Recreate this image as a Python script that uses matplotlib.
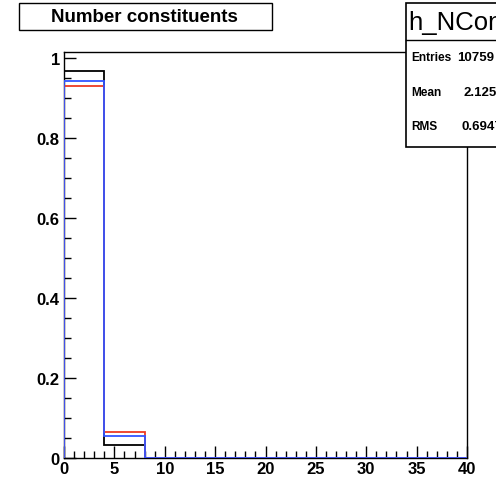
import matplotlib
matplotlib.use("Agg")
import matplotlib.pyplot as plt
from matplotlib.patches import Rectangle
from matplotlib.lines import Line2D
from matplotlib.ticker import MultipleLocator, FixedLocator
import numpy as np

# ---- data ----
bin_edges = [0, 4, 8, 12, 16, 20, 24, 28, 32, 36, 40]
black_vals = [0.967, 0.0325, 0, 0, 0, 0, 0, 0, 0, 0]
red_vals = [0.931, 0.064, 0, 0, 0, 0, 0, 0, 0, 0]
blue_vals = [0.943, 0.056, 0, 0, 0, 0, 0, 0, 0, 0]
series_colors = ["black", "#ee3a22", "#3355ff"]
title_text = "Number constituents"
stats_name = "h_NCon"
stats_labels = ["Entries", "Mean", "RMS"]
stats_values = ["10759", "2.125", "0.6947"]
y_major = [0, 0.2, 0.4, 0.6, 0.8, 1]
y_major_labels = ["0", "0.2", "0.4", "0.6", "0.8", "1"]
x_major = [0, 5, 10, 15, 20, 25, 30, 35, 40]

W, H = 496, 481
FONT = "Liberation Sans"

fig = plt.figure(figsize=(W / 100, H / 100), dpi=100)
fig.patch.set_facecolor("white")

def fx(px):
    return px / W

def fy(py):
    return 1 - py / H

ax = fig.add_axes([fx(64), fy(459), fx(467) - fx(64), fy(53) - fy(459)])
ax.set_xlim(0, 40)
ax.set_ylim(0, 1.015)

for vals, col in zip([black_vals, red_vals, blue_vals], series_colors):
    ax.stairs(vals, bin_edges, color=col, lw=1.3, baseline=None, zorder=3)
    ax.plot([bin_edges[0], bin_edges[0]], [0, vals[0]], color=col, lw=1.3, zorder=3)

for s in ax.spines.values():
    s.set_linewidth(1.0)
    s.set_color("black")

ax.yaxis.set_major_locator(FixedLocator(y_major))
ax.set_yticklabels(y_major_labels)
ax.yaxis.set_minor_locator(MultipleLocator(0.05))
ax.xaxis.set_major_locator(FixedLocator(x_major))
ax.set_xticklabels([str(v) for v in x_major])
ax.xaxis.set_minor_locator(MultipleLocator(1))

ax.tick_params(which="both", direction="in", top=False, right=False, width=1.0)
ax.tick_params(which="major", length=8.8)
ax.tick_params(which="minor", length=5.0)
ax.tick_params(axis="y", which="major", pad=3)
ax.tick_params(axis="x", which="major", pad=2.5)
for lab in ax.get_xticklabels() + ax.get_yticklabels():
    lab.set_fontfamily(FONT)
    lab.set_fontweight("bold")
    lab.set_fontsize(12)

# ---- title box ----
fig.add_artist(Rectangle((fx(20), fy(32)), fx(273) - fx(20), fy(5) - fy(32),
                         transform=fig.transFigure, facecolor="#333333", edgecolor="none", zorder=9))
fig.add_artist(Rectangle((fx(19), fy(31)), fx(272) - fx(19), fy(4) - fy(31),
                         transform=fig.transFigure, facecolor="white", edgecolor="black", lw=1.0, zorder=10))
fig.text(fx(144), fy(17.5), title_text, ha="center", va="center", fontsize=13.5,
         fontweight="bold", fontfamily=FONT, zorder=11)

# ---- stats box ----
fig.add_artist(Rectangle((fx(406), fy(148)), fx(520) - fx(406), fy(4) - fy(148),
                         transform=fig.transFigure, facecolor="white", edgecolor="black", lw=1.2, zorder=10))
fig.add_artist(Line2D([fx(406), fx(500)], [fy(41), fy(41)], transform=fig.transFigure,
                      color="black", lw=1.0, zorder=11))
fig.text(fx(408), fy(23), stats_name, ha="left", va="center", fontsize=18.5,
         fontfamily=FONT, zorder=12)
row_y = [58, 93, 127]
val_x = [457, 464, 462]
for lab, val, yy, vx in zip(stats_labels, stats_values, row_y, val_x):
    fig.text(fx(411), fy(yy), lab, ha="left", va="center", fontsize=8.6,
             fontweight="bold", fontfamily=FONT, zorder=12)
    fig.text(fx(vx), fy(yy), val, ha="left", va="center", fontsize=9.5,
             fontweight="bold", fontfamily=FONT, zorder=12)

fig.savefig("out.png", dpi=100, facecolor="white")
